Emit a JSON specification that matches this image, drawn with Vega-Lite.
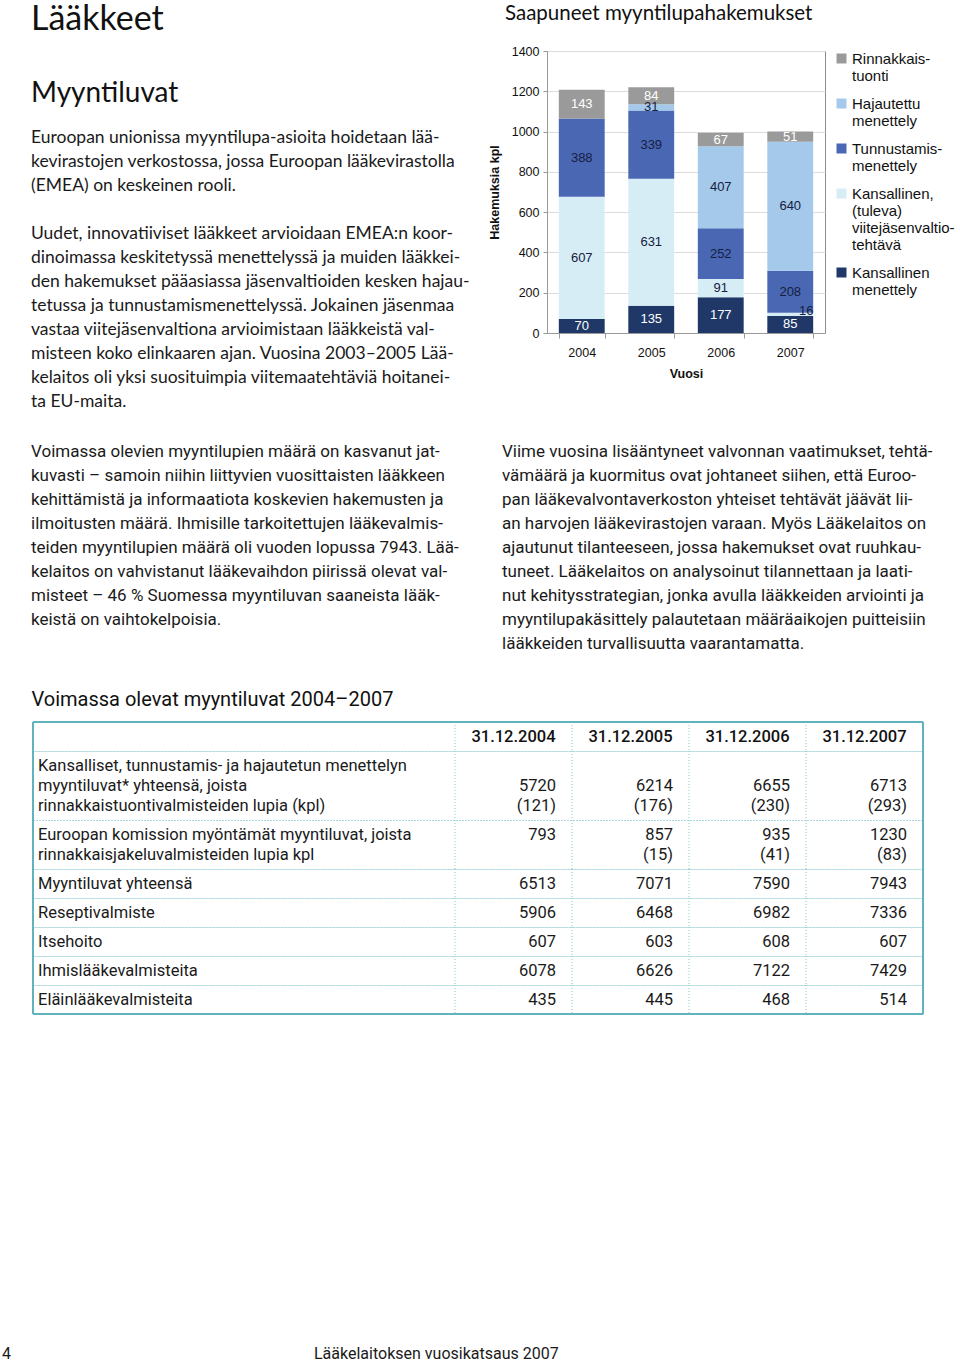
{
  "$schema": "https://vega.github.io/schema/vega-lite/v6.json",
  "padding": {"top": 2, "left": 0, "right": 0, "bottom": 0},
  "background": "white",
  "config": {"view": {"stroke": null}},
  "resolve": {"scale": {"color": "independent"}, "legend": {"color": "independent"}},
  "datasets": {
    "applications": [
      {"year": "2004", "series": "Kansallinen menettely", "value": 70},
      {"year": "2004", "series": "Kansallinen, (tuleva) viitejäsenvaltiotehtävä", "value": 607},
      {"year": "2004", "series": "Tunnustamismenettely", "value": 388},
      {"year": "2004", "series": "Rinnakkaistuonti", "value": 143},
      {"year": "2005", "series": "Kansallinen menettely", "value": 135},
      {"year": "2005", "series": "Kansallinen, (tuleva) viitejäsenvaltiotehtävä", "value": 631},
      {"year": "2005", "series": "Tunnustamismenettely", "value": 339},
      {"year": "2005", "series": "Hajautettu menettely", "value": 31},
      {"year": "2005", "series": "Rinnakkaistuonti", "value": 84},
      {"year": "2006", "series": "Kansallinen menettely", "value": 177},
      {"year": "2006", "series": "Kansallinen, (tuleva) viitejäsenvaltiotehtävä", "value": 91},
      {"year": "2006", "series": "Tunnustamismenettely", "value": 252},
      {"year": "2006", "series": "Hajautettu menettely", "value": 407},
      {"year": "2006", "series": "Rinnakkaistuonti", "value": 67},
      {"year": "2007", "series": "Kansallinen menettely", "value": 85},
      {"year": "2007", "series": "Kansallinen, (tuleva) viitejäsenvaltiotehtävä", "value": 16},
      {"year": "2007", "series": "Tunnustamismenettely", "value": 208},
      {"year": "2007", "series": "Hajautettu menettely", "value": 640},
      {"year": "2007", "series": "Rinnakkaistuonti", "value": 51}
    ],
    "series": [
      {"series": "Kansallinen menettely", "rank": 1},
      {"series": "Kansallinen, (tuleva) viitejäsenvaltiotehtävä", "rank": 2},
      {"series": "Tunnustamismenettely", "rank": 3},
      {"series": "Hajautettu menettely", "rank": 4},
      {"series": "Rinnakkaistuonti", "rank": 5}
    ],
    "intro": [
      {"role": "heading", "line": 0, "text": "Lääkkeet"},
      {"role": "subheading", "line": 3, "text": "Myyntiluvat"},
      {"role": "body", "line": 5, "text": "Euroopan unionissa myyntilupa-asioita hoidetaan lää-"},
      {"role": "body", "line": 6, "text": "kevirastojen verkostossa, jossa Euroopan lääkevirastolla"},
      {"role": "body", "line": 7, "text": "(EMEA) on keskeinen rooli."},
      {"role": "body", "line": 9, "text": "Uudet, innovatiiviset lääkkeet arvioidaan EMEA:n koor-"},
      {"role": "body", "line": 10, "text": "dinoimassa keskitetyssä menettelyssä ja muiden lääkkei-"},
      {"role": "body", "line": 11, "text": "den hakemukset pääasiassa jäsenvaltioiden kesken hajau-"},
      {"role": "body", "line": 12, "text": "tetussa ja tunnustamismenettelyssä. Jokainen jäsenmaa"},
      {"role": "body", "line": 13, "text": "vastaa viitejäsenvaltiona arvioimistaan lääkkeistä val-"},
      {"role": "body", "line": 14, "text": "misteen koko elinkaaren ajan. Vuosina 2003–2005 Lää-"},
      {"role": "body", "line": 15, "text": "kelaitos oli yksi suosituimpia viitemaatehtäviä hoitanei-"},
      {"role": "body", "line": 16, "text": "ta EU-maita."}
    ],
    "paragraphs": [
      {"col": "left", "line": 0, "text": "Voimassa olevien myyntilupien määrä on kasvanut jat-"},
      {"col": "left", "line": 1, "text": "kuvasti –  samoin niihin liittyvien vuosittaisten lääkkeen"},
      {"col": "left", "line": 2, "text": "kehittämistä ja informaatiota koskevien hakemusten ja"},
      {"col": "left", "line": 3, "text": "ilmoitusten määrä. Ihmisille tarkoitettujen lääkevalmis-"},
      {"col": "left", "line": 4, "text": "teiden myyntilupien määrä oli vuoden lopussa 7943. Lää-"},
      {"col": "left", "line": 5, "text": "kelaitos on vahvistanut lääkevaihdon piirissä olevat val-"},
      {"col": "left", "line": 6, "text": "misteet – 46 % Suomessa myyntiluvan saaneista lääk-"},
      {"col": "left", "line": 7, "text": "keistä on vaihtokelpoisia."},
      {"col": "right", "line": 0, "text": "Viime vuosina lisääntyneet valvonnan vaatimukset, tehtä-"},
      {"col": "right", "line": 1, "text": "vämäärä ja kuormitus ovat johtaneet siihen, että Euroo-"},
      {"col": "right", "line": 2, "text": "pan lääkevalvontaverkoston yhteiset tehtävät jäävät lii-"},
      {"col": "right", "line": 3, "text": "an harvojen lääkevirastojen varaan. Myös Lääkelaitos on"},
      {"col": "right", "line": 4, "text": "ajautunut tilanteeseen, jossa hakemukset ovat ruuhkau-"},
      {"col": "right", "line": 5, "text": "tuneet. Lääkelaitos on analysoinut tilannettaan ja laati-"},
      {"col": "right", "line": 6, "text": "nut kehitysstrategian, jonka avulla lääkkeiden arviointi ja"},
      {"col": "right", "line": 7, "text": "myyntilupakäsittely palautetaan määräaikojen puitteisiin"},
      {"col": "right", "line": 8, "text": "lääkkeiden turvallisuutta vaarantamatta."}
    ],
    "footer": [
      {"part": "page", "line": 0, "text": "4"},
      {"part": "title", "line": 0, "text": "Lääkelaitoksen vuosikatsaus 2007"}
    ],
    "columns": [{"col": "2004"}, {"col": "2005"}, {"col": "2006"}, {"col": "2007"}],
    "edges": [{"edge": 0}, {"edge": 1}],
    "table": [
      {"row": 0, "col": "2004", "line": 0, "text": "31.12.2004"},
      {"row": 0, "col": "2005", "line": 0, "text": "31.12.2005"},
      {"row": 0, "col": "2006", "line": 0, "text": "31.12.2006"},
      {"row": 0, "col": "2007", "line": 0, "text": "31.12.2007"},
      {"row": 1, "col": "label", "line": 0, "text": "Kansalliset, tunnustamis- ja hajautetun menettelyn"},
      {"row": 1, "col": "label", "line": 1, "text": "myyntiluvat* yhteensä, joista"},
      {"row": 1, "col": "label", "line": 2, "text": "rinnakkaistuontivalmisteiden lupia (kpl)"},
      {"row": 1, "col": "2004", "line": 1, "text": "5720"},
      {"row": 1, "col": "2004", "line": 2, "text": "(121)"},
      {"row": 1, "col": "2005", "line": 1, "text": "6214"},
      {"row": 1, "col": "2005", "line": 2, "text": "(176)"},
      {"row": 1, "col": "2006", "line": 1, "text": "6655"},
      {"row": 1, "col": "2006", "line": 2, "text": "(230)"},
      {"row": 1, "col": "2007", "line": 1, "text": "6713"},
      {"row": 1, "col": "2007", "line": 2, "text": "(293)"},
      {"row": 2, "col": "label", "line": 0, "text": "Euroopan komission myöntämät myyntiluvat, joista"},
      {"row": 2, "col": "label", "line": 1, "text": "rinnakkaisjakeluvalmisteiden lupia kpl"},
      {"row": 2, "col": "2004", "line": 0, "text": "793"},
      {"row": 2, "col": "2005", "line": 0, "text": "857"},
      {"row": 2, "col": "2005", "line": 1, "text": "(15)"},
      {"row": 2, "col": "2006", "line": 0, "text": "935"},
      {"row": 2, "col": "2006", "line": 1, "text": "(41)"},
      {"row": 2, "col": "2007", "line": 0, "text": "1230"},
      {"row": 2, "col": "2007", "line": 1, "text": "(83)"},
      {"row": 3, "col": "label", "line": 0, "text": "Myyntiluvat yhteensä"},
      {"row": 3, "col": "2004", "line": 0, "text": "6513"},
      {"row": 3, "col": "2005", "line": 0, "text": "7071"},
      {"row": 3, "col": "2006", "line": 0, "text": "7590"},
      {"row": 3, "col": "2007", "line": 0, "text": "7943"},
      {"row": 4, "col": "label", "line": 0, "text": "Reseptivalmiste"},
      {"row": 4, "col": "2004", "line": 0, "text": "5906"},
      {"row": 4, "col": "2005", "line": 0, "text": "6468"},
      {"row": 4, "col": "2006", "line": 0, "text": "6982"},
      {"row": 4, "col": "2007", "line": 0, "text": "7336"},
      {"row": 5, "col": "label", "line": 0, "text": "Itsehoito"},
      {"row": 5, "col": "2004", "line": 0, "text": "607"},
      {"row": 5, "col": "2005", "line": 0, "text": "603"},
      {"row": 5, "col": "2006", "line": 0, "text": "608"},
      {"row": 5, "col": "2007", "line": 0, "text": "607"},
      {"row": 6, "col": "label", "line": 0, "text": "Ihmislääkevalmisteita"},
      {"row": 6, "col": "2004", "line": 0, "text": "6078"},
      {"row": 6, "col": "2005", "line": 0, "text": "6626"},
      {"row": 6, "col": "2006", "line": 0, "text": "7122"},
      {"row": 6, "col": "2007", "line": 0, "text": "7429"},
      {"row": 7, "col": "label", "line": 0, "text": "Eläinlääkevalmisteita"},
      {"row": 7, "col": "2004", "line": 0, "text": "435"},
      {"row": 7, "col": "2005", "line": 0, "text": "445"},
      {"row": 7, "col": "2006", "line": 0, "text": "468"},
      {"row": 7, "col": "2007", "line": 0, "text": "514"}
    ]
  },
  "vconcat": [
    {
      "resolve": {"scale": {"color": "independent"}, "legend": {"color": "independent"}},
      "hconcat": [
        {"width": 5, "height": 10, "data": {"values": []}, "mark": "point"},
        {
          "width": 489.7, "height": 365,
          "data": {"name": "intro"},
          "encoding": {
            "x": {"datum": 0, "type": "quantitative", "scale": {"domain": [0, 1]}, "axis": null},
            "y": {"field": "line", "type": "quantitative", "scale": {"domain": [1.375, 16.5833], "reverse": true, "nice": false, "zero": false}, "axis": null},
            "text": {"field": "text"}
          },
          "layer": [
            {"transform": [{"filter": "datum.role == 'heading'"}], "mark": {"type": "text", "align": "left", "baseline": "middle", "dy": 2, "font": "Lato, Open Sans, sans-serif", "fontSize": 34, "color": "#111111"}},
            {"transform": [{"filter": "datum.role == 'subheading'"}], "mark": {"type": "text", "align": "left", "baseline": "middle", "dy": 4, "font": "Lato, Open Sans, sans-serif", "fontSize": 28, "color": "#111111"}},
            {"transform": [{"filter": "datum.role == 'body'"}], "mark": {"type": "text", "align": "left", "baseline": "middle", "font": "Lato, Open Sans, sans-serif", "fontSize": 17.5, "color": "#1a1a1a"}}
          ]
        },
        {
          "width": 278, "height": 282,
          "data": {"name": "applications"},
          "transform": [{"lookup": "series", "from": {"data": {"name": "series"}, "key": "series", "fields": ["rank"]}}],
          "view": {"stroke": "#8c8c8c"},
          "title": {"text": "Saapuneet myyntilupahakemukset", "anchor": "start", "frame": "group", "dx": -42, "offset": 21, "fontSize": 20.5, "font": "Lato, Open Sans, sans-serif", "fontWeight": "normal", "color": "#111111"},
          "encoding": {
            "x": {"field": "year", "type": "ordinal", "scale": {"type": "band", "paddingInner": 0.34, "paddingOuter": 0.17},
              "axis": {"title": "Vuosi", "labelAngle": 0, "labelFont": "Liberation Sans, Arial, sans-serif", "labelFontSize": 12.5, "labelColor": "#111111", "labelPadding": 8, "titleFont": "Liberation Sans, Arial, sans-serif", "titleFontSize": 12.5, "titleFontWeight": "bold", "titleColor": "#111111", "titlePadding": 9, "tickBand": "extent", "tickSize": 5, "tickColor": "#999999", "domainColor": "#999999"}},
            "order": {"field": "rank", "type": "quantitative"}
          },
          "layer": [
            {
              "mark": {"type": "bar"},
              "encoding": {
                "y": {"field": "value", "type": "quantitative", "stack": "zero", "scale": {"domain": [0, 1400], "nice": false},
                  "axis": {"title": "Hakemuksia kpl", "format": "d", "values": [0, 200, 400, 600, 800, 1000, 1200, 1400], "labelFont": "Liberation Sans, Arial, sans-serif", "labelFontSize": 12.5, "labelColor": "#111111", "labelPadding": 4, "tickSize": 4, "tickColor": "#999999", "domainColor": "#999999", "gridColor": "#dcdcdc", "titleFont": "Liberation Sans, Arial, sans-serif", "titleFontSize": 12.5, "titleFontWeight": "bold", "titleColor": "#111111", "titlePadding": 10}},
                "color": {"field": "series", "type": "nominal",
                  "scale": {"domain": ["Rinnakkaistuonti", "Hajautettu menettely", "Tunnustamismenettely", "Kansallinen, (tuleva) viitejäsenvaltiotehtävä", "Kansallinen menettely"], "range": ["#9a9a9a", "#a4c9ea", "#4a67b4", "#d6edf5", "#1f3868"]},
                  "legend": {"title": null, "orient": "right", "offset": 9, "padding": 0, "symbolType": "square", "symbolSize": 100, "symbolStrokeWidth": 0, "labelFont": "Liberation Sans, Arial, sans-serif", "labelFontSize": 15, "labelColor": "#111111", "labelLimit": 300, "rowPadding": 12, "labelOffset": 3,
                    "labelExpr": "datum.label == 'Rinnakkaistuonti' ? ['Rinnakkais-', 'tuonti'] : datum.label == 'Hajautettu menettely' ? ['Hajautettu', 'menettely'] : datum.label == 'Tunnustamismenettely' ? ['Tunnustamis-', 'menettely'] : datum.label == 'Kansallinen menettely' ? ['Kansallinen', 'menettely'] : ['Kansallinen,', '(tuleva)', 'viitejäsenvaltio-', 'tehtävä']"}}
              }
            },
            {
              "mark": {"type": "text", "baseline": "middle", "font": "Liberation Sans, Arial, sans-serif", "fontSize": 13},
              "encoding": {
                "y": {"field": "value", "type": "quantitative", "stack": "zero", "bandPosition": 0.5},
                "detail": {"field": "series"},
                "text": {"condition": {"test": "datum.value < 20", "value": ""}, "field": "value", "type": "quantitative"},
                "color": {"condition": {"test": "datum.series == 'Kansallinen menettely' || datum.series == 'Rinnakkaistuonti'", "value": "#ffffff"}, "value": "#15203f"}
              }
            },
            {
              "mark": {"type": "text", "baseline": "middle", "dx": 16, "dy": -3, "font": "Liberation Sans, Arial, sans-serif", "fontSize": 13, "color": "#15203f"},
              "encoding": {
                "y": {"field": "value", "type": "quantitative", "stack": "zero", "bandPosition": 0.5},
                "detail": {"field": "series"},
                "text": {"condition": {"test": "datum.value < 20", "field": "value", "type": "quantitative"}, "value": ""}
              }
            }
          ]
        }
      ],
      "spacing": 26,
      "bounds": "flush"
    },
    {
      "hconcat": [
        {"width": 5, "height": 10, "data": {"values": []}, "mark": "point"},
        {
          "width": 445, "height": 273,
          "data": {"name": "paragraphs"},
          "transform": [{"filter": "datum.col == 'left'"}],
          "mark": {"type": "text", "align": "left", "baseline": "middle", "font": "Roboto, Liberation Sans, sans-serif", "fontSize": 17, "color": "#1a1a1a"},
          "encoding": {
            "x": {"datum": 0, "type": "quantitative", "scale": {"domain": [0, 1]}, "axis": null},
            "y": {"field": "line", "type": "quantitative", "scale": {"domain": [-1.5, 9.875], "reverse": true, "nice": false, "zero": false}, "axis": null},
            "text": {"field": "text"}
          }
        },
        {
          "width": 423, "height": 273,
          "data": {"name": "paragraphs"},
          "transform": [{"filter": "datum.col == 'right'"}],
          "mark": {"type": "text", "align": "left", "baseline": "middle", "font": "Roboto, Liberation Sans, sans-serif", "fontSize": 17, "color": "#1a1a1a"},
          "encoding": {
            "x": {"datum": 0, "type": "quantitative", "scale": {"domain": [0, 1]}, "axis": null},
            "y": {"field": "line", "type": "quantitative", "scale": {"domain": [-1.5, 9.875], "reverse": true, "nice": false, "zero": false}, "axis": null},
            "text": {"field": "text"}
          }
        }
      ],
      "spacing": 26,
      "bounds": "flush"
    },
    {
      "hconcat": [
        {"width": 31, "height": 10, "data": {"values": []}, "mark": "point"},
        {
          "title": {"text": "Voimassa olevat myyntiluvat 2004–2007", "anchor": "start", "offset": 11, "fontSize": 20, "font": "Roboto, Liberation Sans, sans-serif", "fontWeight": "normal", "color": "#111111"},
          "spacing": 0,
          "bounds": "flush",
          "vconcat": [
            {
              "width": 890, "height": 29,
              "data": {"name": "table"},
              "transform": [{"filter": "datum.row == 0"}],
              "view": {"stroke": "#8ac8d1", "strokeDash": [1, 2]},
              "layer": [
                {"mark": {"type": "text", "align": "center", "baseline": "middle", "font": "Roboto, Liberation Sans, sans-serif", "fontSize": 16.5, "fontWeight": 500, "color": "#111111"},
                  "encoding": {"x": {"field": "col", "type": "ordinal", "scale": {"type": "band", "domain": ["2004", "2005", "2006", "2007"], "range": [422, 890], "paddingInner": 0, "paddingOuter": 0}, "axis": null},
                    "y": {"field": "line", "type": "ordinal", "scale": {"type": "band", "paddingInner": 0, "paddingOuter": 0}, "axis": null},
                    "text": {"field": "text"}}},
                {"data": {"name": "columns"}, "mark": {"type": "rule", "color": "#8ac8d1", "strokeDash": [1, 2]},
                  "encoding": {"x": {"field": "col", "type": "ordinal", "bandPosition": 0, "scale": {"type": "band", "domain": ["2004", "2005", "2006", "2007"], "range": [422, 890], "paddingInner": 0, "paddingOuter": 0}, "axis": null}}},
                {"data": {"name": "edges"}, "mark": {"type": "rule", "color": "#62b1be", "strokeWidth": 2},
                  "encoding": {"x": {"field": "edge", "type": "quantitative", "scale": {"domain": [0, 1]}, "axis": null}}},
                {"transform": [{"filter": "datum.col == '2004'"}], "mark": {"type": "rule", "color": "#62b1be", "strokeWidth": 2},
                  "encoding": {"y": {"datum": 0, "type": "ordinal", "bandPosition": 0, "axis": null}}}
              ],
              "resolve": {"scale": {"x": "independent"}}
            },
            {
              "width": 890, "height": 69,
              "data": {"name": "table"},
              "transform": [{"filter": "datum.row == 1"}],
              "view": {"stroke": "#8ac8d1", "strokeDash": [1, 2]},
              "layer": [
                {"transform": [{"filter": "datum.col == 'label'"}], "mark": {"type": "text", "align": "left", "baseline": "middle", "dx": 5, "font": "Roboto, Liberation Sans, sans-serif", "fontSize": 16.5, "color": "#1a1a1a"},
                  "encoding": {"x": {"datum": 0, "type": "quantitative", "scale": {"domain": [0, 1]}, "axis": null},
                    "y": {"field": "line", "type": "ordinal", "scale": {"type": "band", "paddingInner": 0, "paddingOuter": 0.225}, "axis": null},
                    "text": {"field": "text"}}},
                {"transform": [{"filter": "datum.col != 'label'"}], "mark": {"type": "text", "align": "right", "baseline": "middle", "dx": -16, "font": "Roboto, Liberation Sans, sans-serif", "fontSize": 16.5, "color": "#1a1a1a"},
                  "encoding": {"x": {"field": "col", "type": "ordinal", "bandPosition": 1, "scale": {"type": "band", "domain": ["2004", "2005", "2006", "2007"], "range": [422, 890], "paddingInner": 0, "paddingOuter": 0}, "axis": null},
                    "y": {"field": "line", "type": "ordinal", "scale": {"type": "band", "paddingInner": 0, "paddingOuter": 0.225}, "axis": null},
                    "text": {"field": "text"}}},
                {"data": {"name": "columns"}, "mark": {"type": "rule", "color": "#8ac8d1", "strokeDash": [1, 2]},
                  "encoding": {"x": {"field": "col", "type": "ordinal", "bandPosition": 0, "scale": {"type": "band", "domain": ["2004", "2005", "2006", "2007"], "range": [422, 890], "paddingInner": 0, "paddingOuter": 0}, "axis": null}}},
                {"data": {"name": "edges"}, "mark": {"type": "rule", "color": "#62b1be", "strokeWidth": 2},
                  "encoding": {"x": {"field": "edge", "type": "quantitative", "scale": {"domain": [0, 1]}, "axis": null}}}
              ],
              "resolve": {"scale": {"x": "independent"}}
            },
            {
              "width": 890, "height": 49,
              "data": {"name": "table"},
              "transform": [{"filter": "datum.row == 2"}],
              "view": {"stroke": "#8ac8d1", "strokeDash": [1, 2]},
              "layer": [
                {"transform": [{"filter": "datum.col == 'label'"}], "mark": {"type": "text", "align": "left", "baseline": "middle", "dx": 5, "font": "Roboto, Liberation Sans, sans-serif", "fontSize": 16.5, "color": "#1a1a1a"},
                  "encoding": {"x": {"datum": 0, "type": "quantitative", "scale": {"domain": [0, 1]}, "axis": null},
                    "y": {"field": "line", "type": "ordinal", "scale": {"type": "band", "paddingInner": 0, "paddingOuter": 0.225}, "axis": null},
                    "text": {"field": "text"}}},
                {"transform": [{"filter": "datum.col != 'label'"}], "mark": {"type": "text", "align": "right", "baseline": "middle", "dx": -16, "font": "Roboto, Liberation Sans, sans-serif", "fontSize": 16.5, "color": "#1a1a1a"},
                  "encoding": {"x": {"field": "col", "type": "ordinal", "bandPosition": 1, "scale": {"type": "band", "domain": ["2004", "2005", "2006", "2007"], "range": [422, 890], "paddingInner": 0, "paddingOuter": 0}, "axis": null},
                    "y": {"field": "line", "type": "ordinal", "scale": {"type": "band", "paddingInner": 0, "paddingOuter": 0.225}, "axis": null},
                    "text": {"field": "text"}}},
                {"data": {"name": "columns"}, "mark": {"type": "rule", "color": "#8ac8d1", "strokeDash": [1, 2]},
                  "encoding": {"x": {"field": "col", "type": "ordinal", "bandPosition": 0, "scale": {"type": "band", "domain": ["2004", "2005", "2006", "2007"], "range": [422, 890], "paddingInner": 0, "paddingOuter": 0}, "axis": null}}},
                {"data": {"name": "edges"}, "mark": {"type": "rule", "color": "#62b1be", "strokeWidth": 2},
                  "encoding": {"x": {"field": "edge", "type": "quantitative", "scale": {"domain": [0, 1]}, "axis": null}}}
              ],
              "resolve": {"scale": {"x": "independent"}}
            },
            {
              "width": 890, "height": 29,
              "data": {"name": "table"},
              "transform": [{"filter": "datum.row == 3"}],
              "view": {"stroke": "#8ac8d1", "strokeDash": [1, 2]},
              "layer": [
                {"transform": [{"filter": "datum.col == 'label'"}], "mark": {"type": "text", "align": "left", "baseline": "middle", "dx": 5, "font": "Roboto, Liberation Sans, sans-serif", "fontSize": 16.5, "color": "#1a1a1a"},
                  "encoding": {"x": {"datum": 0, "type": "quantitative", "scale": {"domain": [0, 1]}, "axis": null},
                    "y": {"field": "line", "type": "ordinal", "scale": {"type": "band", "paddingInner": 0, "paddingOuter": 0}, "axis": null},
                    "text": {"field": "text"}}},
                {"transform": [{"filter": "datum.col != 'label'"}], "mark": {"type": "text", "align": "right", "baseline": "middle", "dx": -16, "font": "Roboto, Liberation Sans, sans-serif", "fontSize": 16.5, "color": "#1a1a1a"},
                  "encoding": {"x": {"field": "col", "type": "ordinal", "bandPosition": 1, "scale": {"type": "band", "domain": ["2004", "2005", "2006", "2007"], "range": [422, 890], "paddingInner": 0, "paddingOuter": 0}, "axis": null},
                    "y": {"field": "line", "type": "ordinal", "scale": {"type": "band", "paddingInner": 0, "paddingOuter": 0}, "axis": null},
                    "text": {"field": "text"}}},
                {"data": {"name": "columns"}, "mark": {"type": "rule", "color": "#8ac8d1", "strokeDash": [1, 2]},
                  "encoding": {"x": {"field": "col", "type": "ordinal", "bandPosition": 0, "scale": {"type": "band", "domain": ["2004", "2005", "2006", "2007"], "range": [422, 890], "paddingInner": 0, "paddingOuter": 0}, "axis": null}}},
                {"data": {"name": "edges"}, "mark": {"type": "rule", "color": "#62b1be", "strokeWidth": 2},
                  "encoding": {"x": {"field": "edge", "type": "quantitative", "scale": {"domain": [0, 1]}, "axis": null}}}
              ],
              "resolve": {"scale": {"x": "independent"}}
            },
            {
              "width": 890, "height": 29,
              "data": {"name": "table"},
              "transform": [{"filter": "datum.row == 4"}],
              "view": {"stroke": "#8ac8d1", "strokeDash": [1, 2]},
              "layer": [
                {"transform": [{"filter": "datum.col == 'label'"}], "mark": {"type": "text", "align": "left", "baseline": "middle", "dx": 5, "font": "Roboto, Liberation Sans, sans-serif", "fontSize": 16.5, "color": "#1a1a1a"},
                  "encoding": {"x": {"datum": 0, "type": "quantitative", "scale": {"domain": [0, 1]}, "axis": null},
                    "y": {"field": "line", "type": "ordinal", "scale": {"type": "band", "paddingInner": 0, "paddingOuter": 0}, "axis": null},
                    "text": {"field": "text"}}},
                {"transform": [{"filter": "datum.col != 'label'"}], "mark": {"type": "text", "align": "right", "baseline": "middle", "dx": -16, "font": "Roboto, Liberation Sans, sans-serif", "fontSize": 16.5, "color": "#1a1a1a"},
                  "encoding": {"x": {"field": "col", "type": "ordinal", "bandPosition": 1, "scale": {"type": "band", "domain": ["2004", "2005", "2006", "2007"], "range": [422, 890], "paddingInner": 0, "paddingOuter": 0}, "axis": null},
                    "y": {"field": "line", "type": "ordinal", "scale": {"type": "band", "paddingInner": 0, "paddingOuter": 0}, "axis": null},
                    "text": {"field": "text"}}},
                {"data": {"name": "columns"}, "mark": {"type": "rule", "color": "#8ac8d1", "strokeDash": [1, 2]},
                  "encoding": {"x": {"field": "col", "type": "ordinal", "bandPosition": 0, "scale": {"type": "band", "domain": ["2004", "2005", "2006", "2007"], "range": [422, 890], "paddingInner": 0, "paddingOuter": 0}, "axis": null}}},
                {"data": {"name": "edges"}, "mark": {"type": "rule", "color": "#62b1be", "strokeWidth": 2},
                  "encoding": {"x": {"field": "edge", "type": "quantitative", "scale": {"domain": [0, 1]}, "axis": null}}}
              ],
              "resolve": {"scale": {"x": "independent"}}
            },
            {
              "width": 890, "height": 29,
              "data": {"name": "table"},
              "transform": [{"filter": "datum.row == 5"}],
              "view": {"stroke": "#8ac8d1", "strokeDash": [1, 2]},
              "layer": [
                {"transform": [{"filter": "datum.col == 'label'"}], "mark": {"type": "text", "align": "left", "baseline": "middle", "dx": 5, "font": "Roboto, Liberation Sans, sans-serif", "fontSize": 16.5, "color": "#1a1a1a"},
                  "encoding": {"x": {"datum": 0, "type": "quantitative", "scale": {"domain": [0, 1]}, "axis": null},
                    "y": {"field": "line", "type": "ordinal", "scale": {"type": "band", "paddingInner": 0, "paddingOuter": 0}, "axis": null},
                    "text": {"field": "text"}}},
                {"transform": [{"filter": "datum.col != 'label'"}], "mark": {"type": "text", "align": "right", "baseline": "middle", "dx": -16, "font": "Roboto, Liberation Sans, sans-serif", "fontSize": 16.5, "color": "#1a1a1a"},
                  "encoding": {"x": {"field": "col", "type": "ordinal", "bandPosition": 1, "scale": {"type": "band", "domain": ["2004", "2005", "2006", "2007"], "range": [422, 890], "paddingInner": 0, "paddingOuter": 0}, "axis": null},
                    "y": {"field": "line", "type": "ordinal", "scale": {"type": "band", "paddingInner": 0, "paddingOuter": 0}, "axis": null},
                    "text": {"field": "text"}}},
                {"data": {"name": "columns"}, "mark": {"type": "rule", "color": "#8ac8d1", "strokeDash": [1, 2]},
                  "encoding": {"x": {"field": "col", "type": "ordinal", "bandPosition": 0, "scale": {"type": "band", "domain": ["2004", "2005", "2006", "2007"], "range": [422, 890], "paddingInner": 0, "paddingOuter": 0}, "axis": null}}},
                {"data": {"name": "edges"}, "mark": {"type": "rule", "color": "#62b1be", "strokeWidth": 2},
                  "encoding": {"x": {"field": "edge", "type": "quantitative", "scale": {"domain": [0, 1]}, "axis": null}}}
              ],
              "resolve": {"scale": {"x": "independent"}}
            },
            {
              "width": 890, "height": 29,
              "data": {"name": "table"},
              "transform": [{"filter": "datum.row == 6"}],
              "view": {"stroke": "#8ac8d1", "strokeDash": [1, 2]},
              "layer": [
                {"transform": [{"filter": "datum.col == 'label'"}], "mark": {"type": "text", "align": "left", "baseline": "middle", "dx": 5, "font": "Roboto, Liberation Sans, sans-serif", "fontSize": 16.5, "color": "#1a1a1a"},
                  "encoding": {"x": {"datum": 0, "type": "quantitative", "scale": {"domain": [0, 1]}, "axis": null},
                    "y": {"field": "line", "type": "ordinal", "scale": {"type": "band", "paddingInner": 0, "paddingOuter": 0}, "axis": null},
                    "text": {"field": "text"}}},
                {"transform": [{"filter": "datum.col != 'label'"}], "mark": {"type": "text", "align": "right", "baseline": "middle", "dx": -16, "font": "Roboto, Liberation Sans, sans-serif", "fontSize": 16.5, "color": "#1a1a1a"},
                  "encoding": {"x": {"field": "col", "type": "ordinal", "bandPosition": 1, "scale": {"type": "band", "domain": ["2004", "2005", "2006", "2007"], "range": [422, 890], "paddingInner": 0, "paddingOuter": 0}, "axis": null},
                    "y": {"field": "line", "type": "ordinal", "scale": {"type": "band", "paddingInner": 0, "paddingOuter": 0}, "axis": null},
                    "text": {"field": "text"}}},
                {"data": {"name": "columns"}, "mark": {"type": "rule", "color": "#8ac8d1", "strokeDash": [1, 2]},
                  "encoding": {"x": {"field": "col", "type": "ordinal", "bandPosition": 0, "scale": {"type": "band", "domain": ["2004", "2005", "2006", "2007"], "range": [422, 890], "paddingInner": 0, "paddingOuter": 0}, "axis": null}}},
                {"data": {"name": "edges"}, "mark": {"type": "rule", "color": "#62b1be", "strokeWidth": 2},
                  "encoding": {"x": {"field": "edge", "type": "quantitative", "scale": {"domain": [0, 1]}, "axis": null}}}
              ],
              "resolve": {"scale": {"x": "independent"}}
            },
            {
              "width": 890, "height": 29,
              "data": {"name": "table"},
              "transform": [{"filter": "datum.row == 7"}],
              "view": {"stroke": "#8ac8d1", "strokeDash": [1, 2]},
              "layer": [
                {"transform": [{"filter": "datum.col == 'label'"}], "mark": {"type": "text", "align": "left", "baseline": "middle", "dx": 5, "font": "Roboto, Liberation Sans, sans-serif", "fontSize": 16.5, "color": "#1a1a1a"},
                  "encoding": {"x": {"datum": 0, "type": "quantitative", "scale": {"domain": [0, 1]}, "axis": null},
                    "y": {"field": "line", "type": "ordinal", "scale": {"type": "band", "paddingInner": 0, "paddingOuter": 0}, "axis": null},
                    "text": {"field": "text"}}},
                {"transform": [{"filter": "datum.col != 'label'"}], "mark": {"type": "text", "align": "right", "baseline": "middle", "dx": -16, "font": "Roboto, Liberation Sans, sans-serif", "fontSize": 16.5, "color": "#1a1a1a"},
                  "encoding": {"x": {"field": "col", "type": "ordinal", "bandPosition": 1, "scale": {"type": "band", "domain": ["2004", "2005", "2006", "2007"], "range": [422, 890], "paddingInner": 0, "paddingOuter": 0}, "axis": null},
                    "y": {"field": "line", "type": "ordinal", "scale": {"type": "band", "paddingInner": 0, "paddingOuter": 0}, "axis": null},
                    "text": {"field": "text"}}},
                {"data": {"name": "columns"}, "mark": {"type": "rule", "color": "#8ac8d1", "strokeDash": [1, 2]},
                  "encoding": {"x": {"field": "col", "type": "ordinal", "bandPosition": 0, "scale": {"type": "band", "domain": ["2004", "2005", "2006", "2007"], "range": [422, 890], "paddingInner": 0, "paddingOuter": 0}, "axis": null}}},
                {"data": {"name": "edges"}, "mark": {"type": "rule", "color": "#62b1be", "strokeWidth": 2},
                  "encoding": {"x": {"field": "edge", "type": "quantitative", "scale": {"domain": [0, 1]}, "axis": null}}},
                {"transform": [{"filter": "datum.col == '2004'"}], "mark": {"type": "rule", "color": "#62b1be", "strokeWidth": 2},
                  "encoding": {"y": {"datum": 0, "type": "ordinal", "bandPosition": 1, "axis": null}}}
              ],
              "resolve": {"scale": {"x": "independent"}}
            }
          ]
        }
      ],
      "spacing": 0,
      "bounds": "full"
    },
    {
      "hconcat": [
        {
          "width": 314, "height": 348,
          "data": {"name": "footer"},
          "transform": [{"filter": "datum.part == 'page'"}],
          "mark": {"type": "text", "align": "left", "baseline": "alphabetic", "dx": 2, "dy": -5, "font": "Roboto, Liberation Sans, sans-serif", "fontSize": 16, "color": "#1a1a1a"},
          "encoding": {
            "x": {"datum": 0, "type": "quantitative", "scale": {"domain": [0, 1]}, "axis": null},
            "y": {"field": "line", "type": "quantitative", "scale": {"domain": [0, 1], "nice": false, "zero": false}, "axis": null},
            "text": {"field": "text"}
          }
        },
        {
          "width": 646, "height": 348,
          "data": {"name": "footer"},
          "transform": [{"filter": "datum.part == 'title'"}],
          "mark": {"type": "text", "align": "left", "baseline": "alphabetic", "dy": -5, "font": "Roboto, Liberation Sans, sans-serif", "fontSize": 16, "color": "#1a1a1a"},
          "encoding": {
            "x": {"datum": 0, "type": "quantitative", "scale": {"domain": [0, 1]}, "axis": null},
            "y": {"field": "line", "type": "quantitative", "scale": {"domain": [0, 1], "nice": false, "zero": false}, "axis": null},
            "text": {"field": "text"}
          }
        }
      ],
      "spacing": 0,
      "bounds": "flush"
    }
  ],
  "spacing": 0,
  "bounds": "full"
}
